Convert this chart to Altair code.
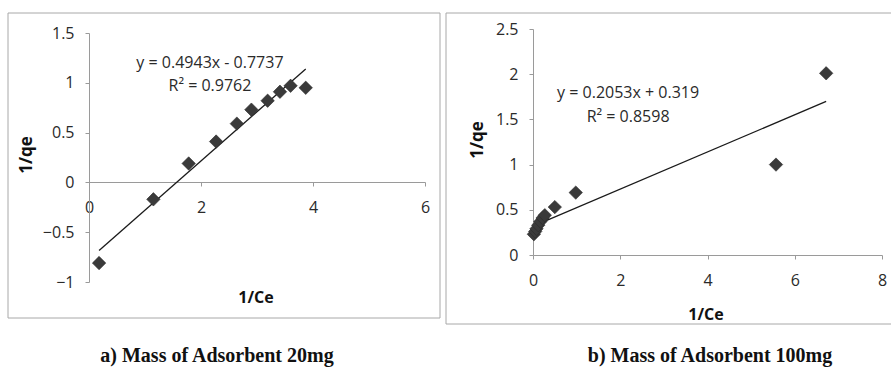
import altair as alt
import pandas as pd

# ---- data ----
left_x = [0.18, 1.15, 1.78, 2.27, 2.64, 2.90, 3.19, 3.41, 3.60, 3.87]
left_y = [-0.81, -0.17, 0.19, 0.41, 0.59, 0.73, 0.82, 0.91, 0.97, 0.95]
left_slope, left_intercept = 0.4943, -0.7737
left_eq = "y = 0.4943x - 0.7737"
left_r2 = "R² = 0.9762"

right_x = [0.02, 0.05, 0.08, 0.12, 0.17, 0.22, 0.27, 0.50, 0.98, 5.57, 6.72]
right_y = [0.23, 0.26, 0.29, 0.33, 0.37, 0.41, 0.44, 0.53, 0.69, 1.00, 2.01]
right_slope, right_intercept = 0.2053, 0.319
right_eq = "y = 0.2053x + 0.319"
right_r2 = "R² = 0.8598"

left_xticks = [0, 2, 4, 6]
left_yticks = [-1, -0.5, 0, 0.5, 1, 1.5]
right_xticks = [0, 2, 4, 6, 8]
right_yticks = [0, 0.5, 1, 1.5, 2, 2.5]

x_title = "1/Ce"
y_title = "1/qe"
captions = ["a) Mass of Adsorbent 20mg", "b) Mass of Adsorbent 100mg"]

W, H = 891, 367
FONT = "Open Sans"
SERIF = "Liberation Serif"
AXIS_COLOR = "#9a9a9a"
MARK_COLOR = "#3a3a3a"


def panel(xs, ys, slope, intercept, xdom, ydom, xrng, yrng, xticks, yticks,
          x_axis_y, y_axis_x, eq, r2, eq_pos, r2_pos):
    pts = pd.DataFrame({"x": xs, "y": ys})
    x0, x1 = min(xs), max(xs)
    fit = pd.DataFrame({"x": [x0, x1],
                        "y": [slope * x0 + intercept, slope * x1 + intercept]})
    ann = pd.DataFrame({"x": [eq_pos[0], r2_pos[0]],
                        "y": [eq_pos[1], r2_pos[1]],
                        "t": [eq, r2]})
    xs_ = alt.Scale(domain=xdom, range=xrng, nice=False, zero=False)
    ys_ = alt.Scale(domain=ydom, range=yrng, nice=False, zero=False)
    common = dict(grid=False, title=None, domainColor=AXIS_COLOR,
                  tickColor=AXIS_COLOR, tickSize=4, labelFont=FONT,
                  labelFontSize=16, labelColor="#2a2a2a", labelFlush=False,
                  labelOverlap=False)
    xa = alt.Axis(orient="bottom", offset=-(H - x_axis_y), values=xticks,
                  labelPadding=13, format="~g", **common)
    ya = alt.Axis(orient="left", offset=-y_axis_x, values=yticks,
                  labelPadding=11, format="~g", **common)
    line = alt.Chart(fit).mark_line(color="#1a1a1a", strokeWidth=1.3).encode(
        x=alt.X("x:Q", scale=xs_, axis=xa),
        y=alt.Y("y:Q", scale=ys_, axis=ya),
    )
    points = alt.Chart(pts).mark_point(
        shape="diamond", filled=True, size=180, color=MARK_COLOR,
        stroke="#2b2b2b", strokeWidth=0.6, opacity=1
    ).encode(x="x:Q", y="y:Q")
    text = alt.Chart(ann).mark_text(
        font=FONT, fontSize=16, color="#2a2a2a", align="center",
        baseline="middle"
    ).encode(x="x:Q", y="y:Q", text="t:N")
    return alt.layer(line, points, text)


left = panel(left_x, left_y, left_slope, left_intercept,
             [0, 6], [-1, 1.5], [89, 425], [282, 33],
             left_xticks, left_yticks, 182, 89,
             left_eq, left_r2, (2.16, 1.2), (2.16, 0.97))

right = panel(right_x, right_y, right_slope, right_intercept,
              [0, 8], [0, 2.5], [533, 882], [255, 29],
              right_xticks, right_yticks, 255, 533,
              right_eq, right_r2, (2.18, 1.79), (2.18, 1.53))

# decorations: frames, axis titles, captions
box_left = alt.Chart(pd.DataFrame({"k": [0]})).mark_rect(
    fillOpacity=0, stroke="#a8a8a8", strokeWidth=1
).encode(x=alt.value(8), x2=alt.value(440), y=alt.value(13), y2=alt.value(318))
box_right = alt.Chart(pd.DataFrame({"k": [0]})).mark_rect(
    fillOpacity=0, stroke="#a8a8a8", strokeWidth=1
).encode(x=alt.value(446), x2=alt.value(900), y=alt.value(13), y2=alt.value(324))


def label(txt, px, py, size, font, bold=True, angle=0):
    kw = dict(font=font, fontSize=size, color="#111111", align="center",
              baseline="middle")
    if bold:
        kw["fontWeight"] = "bold"
    if angle:
        kw["angle"] = angle
    return alt.Chart(pd.DataFrame({"t": [txt]})).mark_text(**kw).encode(
        x=alt.value(px), y=alt.value(py), text="t:N")


titles = [
    label(x_title, 256, 298, 16, FONT),
    label(x_title, 706, 315, 16, FONT),
    label(y_title, 27, 155, 17, FONT, angle=270),
    label(y_title, 478, 140, 17, FONT, angle=270),
    label(captions[0], 217, 356, 20, SERIF),
    label(captions[1], 710, 356, 20, SERIF),
]

chart = alt.layer(left, right, box_left, box_right, *titles).resolve_scale(
    x="independent", y="independent"
).properties(
    width=W, height=H, padding=0, autosize=alt.AutoSizeParams(type="none"),
    background="white"
).configure_view(stroke=None)

chart.save("out.html", embed_options={"renderer": "svg", "actions": False})
